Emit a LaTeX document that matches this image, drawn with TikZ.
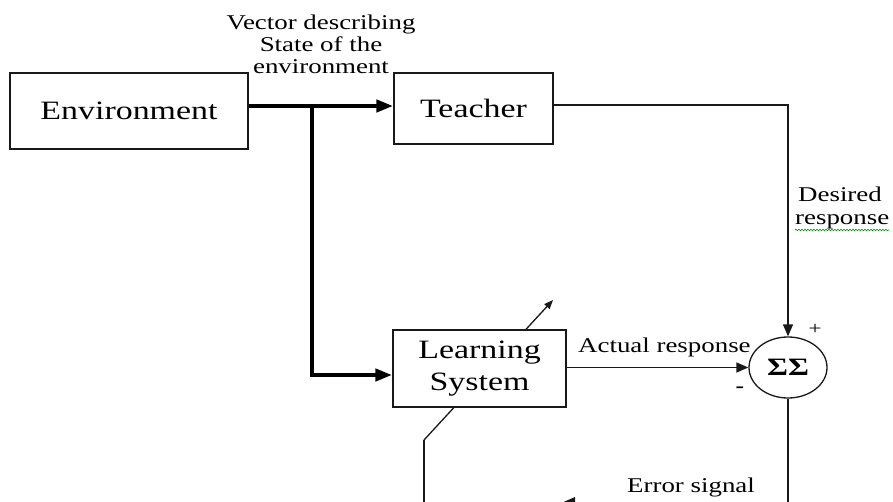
\documentclass[tikz,border=0pt]{standalone}
\usepackage{fontspec}
\setmainfont{Liberation Serif}[FakeStretch=1.28]
\usetikzlibrary{arrows.meta,decorations.pathmorphing,shapes.geometric}
\begin{document}
\begin{tikzpicture}[x=1pt,y=-1pt,
  blk/.style={draw=black!90, line width=1.4pt, fill=white, inner sep=0pt,
    font=\fontsize{26.5}{32}\selectfont, align=center},
  wire/.style={draw=black!90, line width=1.3pt},
  bus/.style={draw=black, line width=4.5pt},
  tip/.style={-{Triangle[length=12pt,width=10pt]}},
  smalltip/.style={-{Triangle[length=9pt,width=7pt]}},
  bigtip/.style={-{Triangle[length=17pt,width=12pt]}},
  lbl/.style={font=\fontsize{21}{22}\selectfont, inner sep=0pt}]
\useasboundingbox (0,0) rectangle (893,502);
\clip (0,0) rectangle (893,502);

% routing points
\coordinate (split) at (312,106);
\coordinate (drop) at (312,375);
\coordinate (br) at (788,502.2);
\coordinate (fbtip) at (563,502.2);
\coordinate (bl) at (424,502.2);
\coordinate (kink) at (424,440);
\coordinate (adj) at (553,300);

% adjustment arrow crossing the learning block (block is drawn over it)
\draw[wire, smalltip] (kink) -- (adj);

% blocks
\node[blk, minimum width=238pt, minimum height=76pt] (env) at (129,111) {Environment};
\node[blk, minimum width=159pt, minimum height=71pt] (teach) at (473.5,108.5) {Teacher};
\node[blk, minimum width=173pt, minimum height=77pt] (learn) at (479.5,368.5) {Learning\\System};
\node[ellipse, draw=black!90, line width=1.3pt, fill=white, inner sep=0pt,
  minimum width=78pt, minimum height=61pt,
  font=\fontsize{25}{25}\selectfont\bfseries] (sum) at (788,367.5) {ΣΣ};

% state vector bus
\draw[bus] (env.east |- split) -- (split);
\draw[bus, bigtip] (split) -- (teach.west |- split);
\draw[bus, bigtip] (split) -- (drop) -- (learn.west |- drop);

% responses into the summing junction
\draw[wire, tip] (teach.east |- 0,105) -| (sum.north);
\draw[wire, tip] (learn.east |- sum.west) -- (sum.west);

% error feedback
\draw[wire, tip] (sum.south) -- (br) -- (fbtip);
\draw[wire] (fbtip) -- (bl) -- (kink);

% labels
\node[lbl, anchor=south, align=center] (vec) at (321,74) {Vector describing\\State of the\\environment};
\node[lbl, anchor=base west] (act) at (578,352) {Actual response};
\node[lbl, anchor=base west] (err) at (627,492) {Error signal};
\node[lbl, anchor=base west, fill=white] (des) at (798,202) {Desired};
\node[lbl, anchor=base west, fill=white] (resp) at (795,225) {response};
\draw[green!55!black, line width=0.6pt, decorate,
  decoration={snake, amplitude=0.8pt, segment length=3pt}]
  (resp.base west) ++(0,5) -- ++(94,0);
\node[font=\fontsize{18}{18}\selectfont, inner sep=0pt] (plus) at (815,329) {+};
\node[font=\fontsize{20}{20}\selectfont\bfseries, inner sep=0pt] (minus) at (740,390) {-};
\end{tikzpicture}
\end{document}
